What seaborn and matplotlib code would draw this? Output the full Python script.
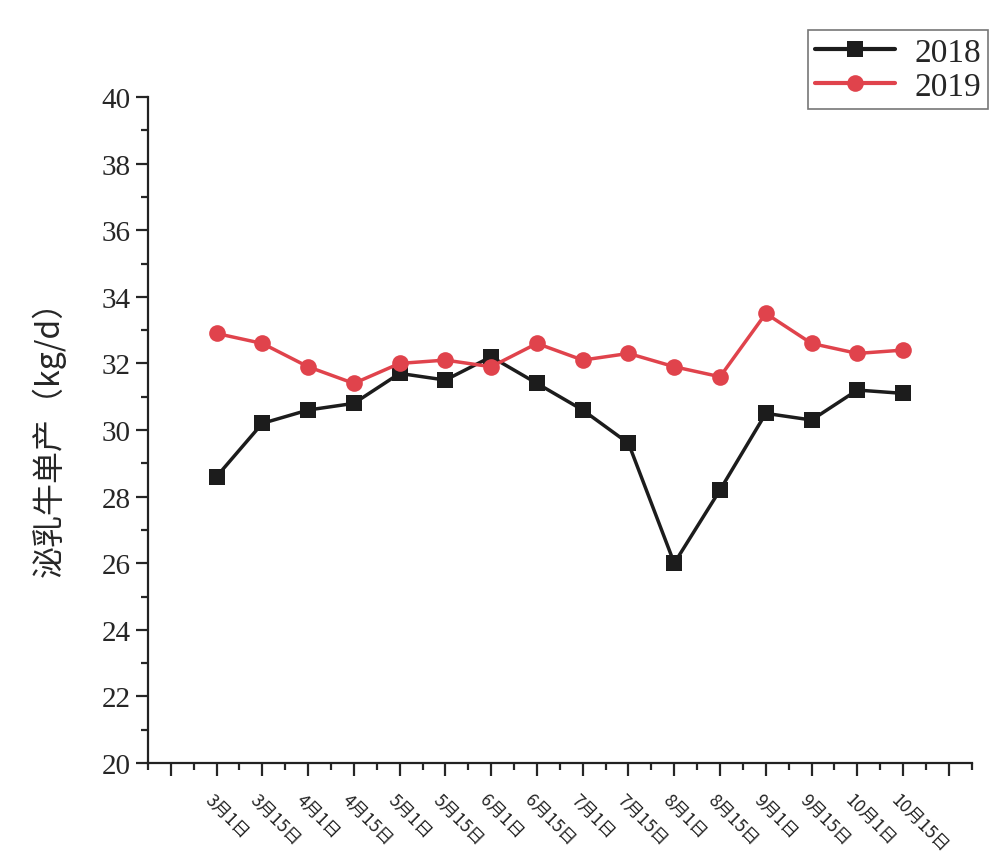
import pandas as pd
import seaborn as sns
import matplotlib.pyplot as plt
from matplotlib.ticker import MultipleLocator

# Data
dates = ["3月1日", "3月15日", "4月1日", "4月15日", "5月1日", "5月15日",
         "6月1日", "6月15日", "7月1日", "7月15日", "8月1日", "8月15日",
         "9月1日", "9月15日", "10月1日", "10月15日"]
milk_2018 = [28.6, 30.2, 30.6, 30.8, 31.7, 31.5, 32.2, 31.4,
             30.6, 29.6, 26.0, 28.2, 30.5, 30.3, 31.2, 31.1]
milk_2019 = [32.9, 32.6, 31.9, 31.4, 32.0, 32.1, 31.9, 32.6,
             32.1, 32.3, 31.9, 31.6, 33.5, 32.6, 32.3, 32.4]
years = ["2018", "2019"]

BLACK = "#1c1c1c"
RED = "#e0434c"

sns.set_style("ticks")
plt.rcParams["font.family"] = ["Liberation Serif", "Noto Sans CJK SC"]

df = pd.DataFrame({
    "pos": list(range(1, len(dates) + 1)) * 2,
    "value": milk_2018 + milk_2019,
    "year": [years[0]] * len(dates) + [years[1]] * len(dates),
})

fig = plt.figure(figsize=(10.06, 8.54), dpi=100)
ax = fig.add_axes([0.147, 0.1054, 0.819, 0.7798])

sns.lineplot(
    data=df, x="pos", y="value", hue="year", style="year",
    palette=[BLACK, RED], markers=["s", "o"], dashes=False,
    markersize=12, linewidth=2.5, markeredgewidth=0, ax=ax,
)

# -------------------------------------------------------------------------
# Axes
ax.set_xlim(-0.5, 17.5)
ax.set_ylim(20, 40)
ax.xaxis.set_major_locator(MultipleLocator(1))
ax.xaxis.set_minor_locator(MultipleLocator(0.5))
ax.yaxis.set_major_locator(MultipleLocator(2))
ax.yaxis.set_minor_locator(MultipleLocator(1))
ax.tick_params(axis="both", which="major", length=9, width=1.6, direction="out")
ax.tick_params(axis="both", which="minor", length=5, width=1.6, direction="out")
ax.tick_params(axis="y", labelsize=21)
ax.set_xticklabels([])

for s in ["top", "right"]:
    ax.spines[s].set_visible(False)
for s in ["left", "bottom"]:
    ax.spines[s].set_linewidth(1.6)
    ax.spines[s].set_color("#222222")

# Rotated date labels under the data points
for i, lab in enumerate(dates):
    ax.text(i + 1 - 0.2, 19.0, lab, rotation=-45, rotation_mode="anchor",
            ha="left", va="center", fontsize=12.5,
            family=["Noto Sans CJK SC"], color="#222222")

ax.set_xlabel("")
ax.set_ylabel("泌乳牛单产（kg/d）", fontsize=23,
              family=["Noto Sans CJK SC"], labelpad=26)

# -------------------------------------------------------------------------
# Legend
leg = ax.legend(
    loc="upper right", bbox_to_anchor=(1.04, 1.125), fontsize=24,
    frameon=True, fancybox=False, handlelength=2.4, borderpad=0.2,
    labelspacing=0.12, handletextpad=0.6,
)
frame = leg.get_frame()
frame.set_edgecolor("#555555")
frame.set_linewidth(1.2)
for line in leg.get_lines():
    line.set_linewidth(3)

plt.savefig("out.png", dpi=100)
